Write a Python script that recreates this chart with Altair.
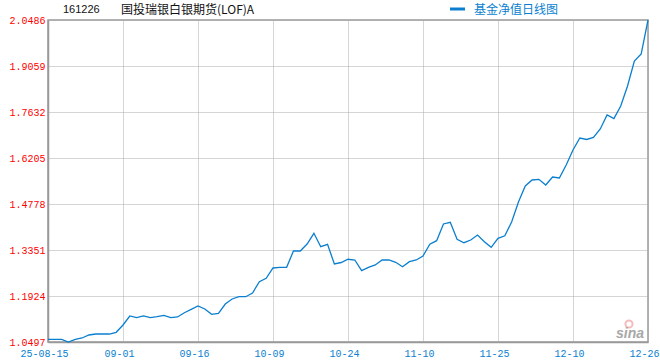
import altair as alt
import pandas as pd

# ---- data ----
nav = [
    1.0581, 1.0581, 1.0581, 1.0497, 1.0575, 1.0621, 1.0714, 1.0745, 1.0745, 1.0745,
    1.0798, 1.1024, 1.1304, 1.1251, 1.1304, 1.1251, 1.1282, 1.1325, 1.1251, 1.1273,
    1.1406, 1.1511, 1.1614, 1.1521, 1.1356, 1.1387, 1.1676, 1.1831, 1.1902, 1.1902,
    1.2017, 1.2368, 1.2473, 1.2793, 1.2814, 1.2814, 1.3320, 1.3320, 1.3537, 1.3869,
    1.3453, 1.3528, 1.2917, 1.2963, 1.3063, 1.3041, 1.2709, 1.2814, 1.2886, 1.3041,
    1.3041, 1.2969, 1.2833, 1.2988, 1.3041, 1.3165, 1.3528, 1.3640, 1.4158, 1.4210,
    1.3683, 1.3577, 1.3661, 1.3816, 1.3608, 1.3435, 1.3714, 1.3790, 1.4220, 1.4840,
    1.5336, 1.5523, 1.5544, 1.5367, 1.5616, 1.5585, 1.5988, 1.6453, 1.6825, 1.6779,
    1.6841, 1.7105, 1.7539, 1.7430, 1.7818, 1.8439, 1.9214, 1.9431, 2.0486,
]
tick_idx = [0, 11, 22, 33, 44, 55, 66, 77, 88]
tick_labels = ["25-08-15", "09-01", "09-16", "10-09", "10-24",
               "11-10", "11-25", "12-10", "12-26"]
y_ticks = [1.0497, 1.1924, 1.3351, 1.4778, 1.6205, 1.7632, 1.9059, 2.0486]
fund_code = ["161226"]
fund_name = ["国投瑞银白银期货(LOF)A"]
legend_label = ["基金净值日线图"]
watermark = ["sina"]

BLUE = "#0a7fd0"
GRAY = "#999999"
GRID = "#ababab"

df = pd.DataFrame({"idx": list(range(len(nav))), "nav": nav})

label_expr = ("[" + ",".join(f"'{s}'" for s in tick_labels) + "]"
              + "[indexof([" + ",".join(str(v) for v in tick_idx) + "], datum.value)]")

line = alt.Chart(df).mark_line(color=BLUE, strokeWidth=1.3).encode(
    x=alt.X(
        "idx:Q",
        scale=alt.Scale(domain=[0, len(nav) - 1], nice=False, zero=False),
        axis=alt.Axis(
            values=tick_idx, labelExpr=label_expr, title=None,
            grid=True, gridColor=GRID, gridDash=[1, 1], gridWidth=1,
            ticks=False, domainColor=GRAY, domainWidth=1.5,
            labelColor=BLUE, labelFont="Liberation Mono", labelFontSize=10,
            labelPadding=6, labelAlign="center", labelFlush=False,
            labelOverlap=False, labelOffset=-4,
        ),
    ),
    y=alt.Y(
        "nav:Q",
        scale=alt.Scale(domain=[y_ticks[0], y_ticks[-1]], nice=False, zero=False),
        axis=alt.Axis(
            values=y_ticks, format=".4f", title=None,
            grid=True, gridColor=GRID, gridDash=[1, 1], gridWidth=1,
            ticks=False, domainColor=GRAY, domainWidth=1.5,
            labelColor="#ff0000", labelFont="Liberation Mono", labelFontSize=10,
            labelPadding=3, labelFlush=False, labelOverlap=False,
        ),
    ),
)

code_text = alt.Chart(pd.DataFrame({"t": fund_code})).mark_text(
    font="Liberation Sans", fontSize=11, color="#111111", align="left", baseline="middle"
).encode(x=alt.value(15), y=alt.value(-10), text="t:N")

name_text = alt.Chart(pd.DataFrame({"t": fund_name})).mark_text(
    font="Noto Sans CJK SC", fontSize=12, color="#111111", align="left", baseline="middle"
).encode(x=alt.value(73), y=alt.value(-10), text="t:N")

legend_line = alt.Chart(pd.DataFrame({"t": legend_label})).mark_rule(
    color=BLUE, strokeWidth=3
).encode(x=alt.value(402), x2=alt.value(417), y=alt.value(-11))

legend_text = alt.Chart(pd.DataFrame({"t": legend_label})).mark_text(
    font="Noto Sans CJK SC", fontSize=12, color=BLUE, align="left", baseline="middle"
).encode(x=alt.value(426), y=alt.value(-10), text="t:N")

wm_eye = alt.Chart(pd.DataFrame({"t": watermark})).mark_point(
    shape="circle", filled=False, color="#f2a0a0", strokeWidth=2, size=50
).encode(x=alt.value(581), y=alt.value(304))

wm_text = alt.Chart(pd.DataFrame({"t": watermark})).mark_text(
    font="Liberation Sans", fontSize=14, fontWeight="bold", fontStyle="italic",
    color="#a8a8a8", align="center", baseline="middle"
).encode(x=alt.value(582), y=alt.value(314), text="t:N")

chart = alt.layer(
    line, code_text, name_text, legend_line, legend_text, wm_eye, wm_text
).properties(
    width=600, height=322,
    padding={"left": 48, "top": 20, "right": 12, "bottom": 18},
    autosize="none",
    background="white",
).configure_view(stroke=GRAY, strokeWidth=1.5)

chart.save("out.html", embed_options={"renderer": "svg", "actions": False})
